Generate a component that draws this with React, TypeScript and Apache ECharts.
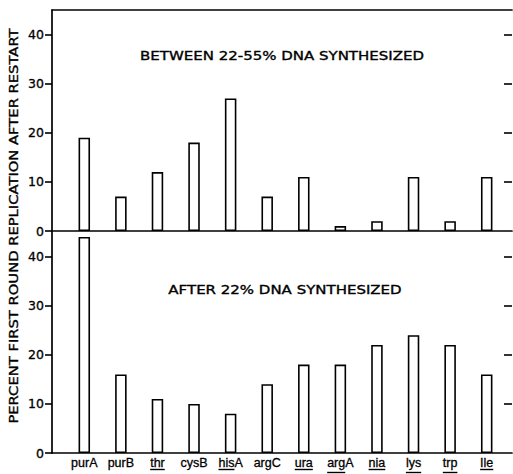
import React, { useEffect, useRef } from "react";
import * as echarts from "echarts";

// Gene markers along the chromosome map
const genes = ["purA", "purB", "thr", "cysB", "hisA", "argC", "ura", "argA", "nia", "lys", "trp", "Ile"];
// Percent first-round replication after restart, 22-55% DNA synthesized
const restartShare = [19, 7, 12, 18, 27, 7, 11, 1, 2, 11, 2, 11];
// Percent first-round replication after 22% DNA synthesized
const firstShare = [44, 16, 11, 10, 8, 14, 18, 18, 22, 24, 22, 16];
// Part of each marker name that is underlined ('' = none)
const underlined = ["", "", "thr", "", "his", "", "ura", "arg", "nia", "lys", "trp", "Ile"];
const yTicks = [0, 10, 20, 30, 40];
const yMax = 45;
const panelTitles = ["BETWEEN 22-55% DNA SYNTHESIZED", "AFTER 22% DNA SYNTHESIZED"];
const yTitle = "PERCENT FIRST ROUND REPLICATION AFTER RESTART";

const INK = "#000";
const LABEL_FONT_SIZE = 12.5;
const LABEL_FAMILY = '"Liberation Sans", Arial, sans-serif';
const TITLE_FAMILY = '"DejaVu Sans", sans-serif';

function measure(text: string, font: string): number {
  const c = document.createElement("canvas").getContext("2d");
  if (!c) return text.length * 7;
  c.font = font;
  return c.measureText(text).width;
}

export default function App() {
  const ref = useRef<HTMLDivElement>(null);

  useEffect(() => {
    document.body.style.margin = "0";
    if (!ref.current) return;
    const chart = echarts.init(ref.current, undefined, { renderer: "svg" });

    const labelFont = `${LABEL_FONT_SIZE}px ${LABEL_FAMILY}`;
    const rich: Record<string, any> = {};
    underlined.forEach((part, i) => {
      if (!part) return;
      // rules sit below descenders when the underlined part has any
      const hasDescender = /[gjpqy]/.test(part);
      const lh = hasDescender ? 7 : 1;
      rich["u" + i] = {
        width: measure(part, labelFont),
        height: 1.4,
        lineHeight: lh,
        fontSize: 1,
        backgroundColor: INK,
      };
      const rest = genes[i].slice(part.length);
      if (rest) {
        rich["s" + i] = { width: measure(rest, labelFont), height: 1, lineHeight: lh, fontSize: 1 };
      }
    });

    const labelFormatter = (value: string) => {
      const i = genes.indexOf(value);
      const part = underlined[i];
      if (!part) return value;
      const rest = value.slice(part.length);
      return `${value}\n{u${i}| }` + (rest ? `{s${i}| }` : "");
    };

    const line = { show: true, onZero: false, lineStyle: { color: INK, width: 1.7 } };
    const frameX = (gridIndex: number, position: "top" | "bottom") => ({
      gridIndex,
      type: "value",
      min: 0,
      max: 1,
      position,
      axisLine: line,
      axisTick: { show: false },
      axisLabel: { show: false },
      splitLine: { show: false },
    });
    const frameYLeft = (gridIndex: number) => ({
      gridIndex,
      type: "value",
      min: 0,
      max: yMax,
      interval: 10,
      position: "left",
      axisLine: line,
      axisTick: { show: true, length: 7, customValues: yTicks, lineStyle: { color: INK, width: 1.6 } },
      axisLabel: {
        show: true,
        customValues: yTicks,
        margin: 8,
        color: INK,
        fontSize: 12.5,
        fontFamily: TITLE_FAMILY,
        textBorderColor: INK,
        textBorderWidth: 0.3,
      },
      splitLine: { show: false },
    });
    const frameYRight = (gridIndex: number) => ({
      gridIndex,
      type: "value",
      min: 0,
      max: yMax,
      interval: 10,
      position: "right",
      axisLine: { show: false, onZero: false },
      axisTick: {
        show: true,
        inside: true,
        length: 8,
        customValues: yTicks.filter((v) => v > 0),
        lineStyle: { color: INK, width: 1.6 },
      },
      axisLabel: { show: false },
      splitLine: { show: false },
    });
    const barX = (gridIndex: number, showLabels: boolean) => ({
      gridIndex,
      type: "category",
      data: genes,
      axisLine: { show: false, onZero: false },
      axisTick: { show: false },
      axisLabel: {
        show: showLabels,
        interval: 0,
        margin: 4,
        color: INK,
        fontSize: LABEL_FONT_SIZE,
        fontFamily: LABEL_FAMILY,
        textBorderColor: INK,
        textBorderWidth: 0.3,
        lineHeight: 12,
        verticalAlign: "top",
        formatter: labelFormatter,
        rich,
      },
      splitLine: { show: false },
    });
    const barY = (gridIndex: number) => ({
      gridIndex,
      type: "value",
      min: 0,
      max: yMax,
      show: false,
      axisLine: { onZero: false },
    });
    const barSeries = (data: number[], xAxisIndex: number, yAxisIndex: number) => ({
      type: "bar",
      data,
      xAxisIndex,
      yAxisIndex,
      barWidth: 11.5,
      itemStyle: { color: "#fff", borderColor: INK, borderWidth: 1.6 },
      silent: true,
    });

    const titleText = (text: string, x: number, y: number, scaleX: number, rotation = 0) => ({
      type: "text",
      x,
      y,
      rotation,
      scaleX,
      silent: true,
      style: {
        text,
        font: `12.5px ${TITLE_FAMILY}`,
        fill: INK,
        stroke: INK,
        lineWidth: 0.35,
        align: "center",
        verticalAlign: "middle",
        textAlign: "center",
        textVerticalAlign: "middle",
      },
    });

    const gridBase = { outerBoundsMode: "none", containLabel: false };
    chart.setOption({
      animation: false,
      backgroundColor: "#fff",
      grid: [
        { ...gridBase, left: 52, right: 1, top: 10, height: 221 },
        { ...gridBase, left: 66, right: 8, top: 10, height: 221 },
        { ...gridBase, left: 52, right: 1, top: 232, height: 221 },
        { ...gridBase, left: 66, right: 8, top: 232, height: 221 },
      ],
      xAxis: [frameX(0, "bottom"), frameX(0, "top"), frameX(2, "bottom"), barX(1, false), barX(3, true)],
      yAxis: [frameYLeft(0), frameYRight(0), frameYLeft(2), frameYRight(2), barY(1), barY(3)],
      series: [barSeries(restartShare, 3, 4), barSeries(firstShare, 4, 5)],
      graphic: [
        titleText(panelTitles[0], 282, 55, 1.2),
        titleText(panelTitles[1], 285, 289, 1.2),
        titleText(yTitle, 13, 226, 1.18, Math.PI / 2),
      ],
    });

    return () => chart.dispose();
  }, []);

  return <div ref={ref} style={{ width: 513, height: 474 }} />;
}
